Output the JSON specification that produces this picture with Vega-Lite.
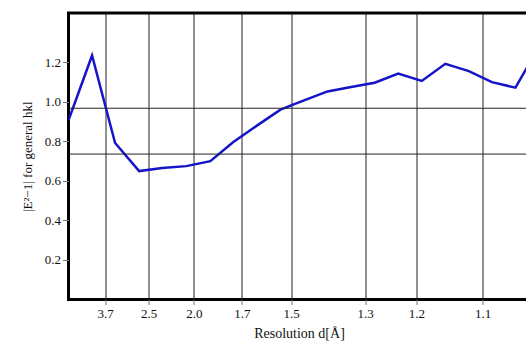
{
  "$schema": "https://vega.github.io/schema/vega-lite/v6.json",
  "autosize": {"type": "none"},
  "padding": {"left": 68.5, "top": 13, "right": 0, "bottom": 47.5},
  "width": 461,
  "height": 286.5,
  "background": "white",
  "config": {
    "view": {"stroke": "black", "strokeWidth": 3},
    "font": "Liberation Serif",
    "axis": {
      "labelFont": "Liberation Serif",
      "titleFont": "Liberation Serif",
      "labelColor": "#111",
      "titleColor": "#111",
      "titleFontWeight": "normal",
      "domain": false,
      "tickColor": "#777",
      "tickSize": 6,
      "labelFontSize": 13,
      "titleFontSize": 13
    }
  },
  "layer": [
    {
      "data": {
        "values": [
          {"inv_d2": 0.0, "value": 0.907},
          {"inv_d2": 0.047, "value": 1.235},
          {"inv_d2": 0.093, "value": 0.792},
          {"inv_d2": 0.141, "value": 0.65},
          {"inv_d2": 0.187, "value": 0.666},
          {"inv_d2": 0.235, "value": 0.675},
          {"inv_d2": 0.283, "value": 0.70},
          {"inv_d2": 0.329, "value": 0.797},
          {"inv_d2": 0.376, "value": 0.88},
          {"inv_d2": 0.423, "value": 0.961},
          {"inv_d2": 0.470, "value": 1.008},
          {"inv_d2": 0.517, "value": 1.053},
          {"inv_d2": 0.564, "value": 1.075},
          {"inv_d2": 0.611, "value": 1.097},
          {"inv_d2": 0.658, "value": 1.143},
          {"inv_d2": 0.705, "value": 1.106},
          {"inv_d2": 0.752, "value": 1.193},
          {"inv_d2": 0.799, "value": 1.156},
          {"inv_d2": 0.845, "value": 1.10},
          {"inv_d2": 0.892, "value": 1.072},
          {"inv_d2": 0.939, "value": 1.28}
        ]
      },
      "mark": {"type": "line", "color": "#1414c8", "strokeWidth": 2.5, "clip": true},
      "encoding": {
        "x": {
          "field": "inv_d2",
          "type": "quantitative",
          "scale": {"domain": [0, 0.92], "nice": false, "zero": false},
          "axis": {
            "title": "Resolution d[Å]",
            "titleFont": "Liberation Serif",
            "labelFont": "Liberation Serif",
            "titleFontSize": 14,
            "titlePadding": 6,
            "values": [0.07305, 0.16, 0.25, 0.34602, 0.44444, 0.59172, 0.69444, 0.82645],
            "labelExpr": "format(1/sqrt(datum.value), '.1f')",
            "grid": true,
            "gridColor": "#222",
            "gridWidth": 1,
            "gridOpacity": 1,
            "labelPadding": 3,
            "tickSize": 5
          }
        },
        "y": {
          "field": "value",
          "type": "quantitative",
          "scale": {"domain": [0, 1.45], "nice": false},
          "axis": {
            "title": "|E²−1| for general hkl",
            "titleFont": "Liberation Serif",
            "labelFont": "Liberation Serif",
            "values": [0.2, 0.4, 0.6, 0.8, 1.0, 1.2],
            "format": ".1f",
            "grid": false,
            "labelPadding": 2,
            "titlePadding": 10
          }
        }
      }
    },
    {
      "data": {"values": [{"ref": 0.968}, {"ref": 0.736}]},
      "mark": {"type": "rule", "color": "#222", "strokeWidth": 1},
      "encoding": {
        "y": {"field": "ref", "type": "quantitative"}
      }
    }
  ]
}
